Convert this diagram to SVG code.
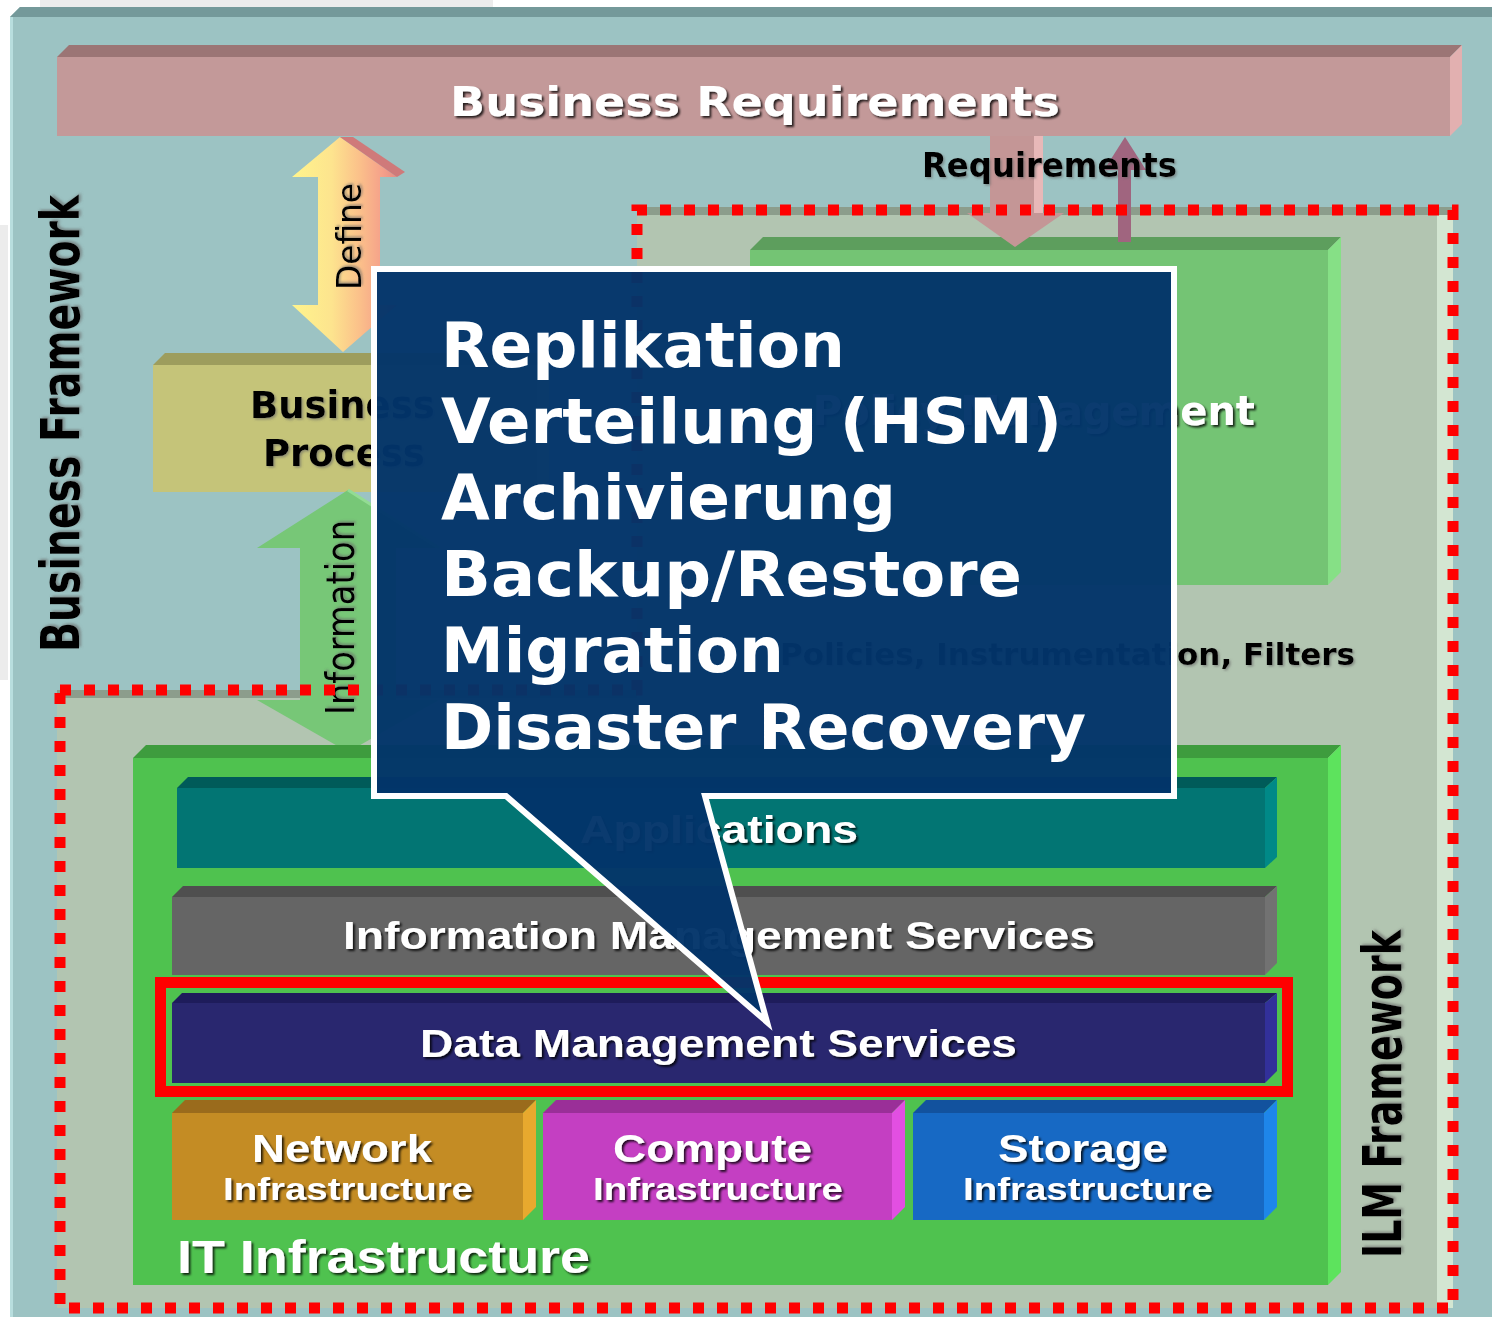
<svg xmlns="http://www.w3.org/2000/svg" width="1492" height="1317" viewBox="0 0 1492 1317">
<defs>
<style>
.ws{fill:#fff;font-family:"Liberation Sans",Arial,sans-serif;font-weight:bold;filter:url(#sd)}
.wd{fill:#fff;font-family:"DejaVu Sans",Verdana,sans-serif;font-weight:bold;filter:url(#sd)}
.bd{fill:#000;font-family:"DejaVu Sans",Verdana,sans-serif;font-weight:bold;filter:url(#sg)}
.br{fill:#000;font-family:"DejaVu Sans",Verdana,sans-serif;filter:url(#sg)}
.co{fill:#fff;font-family:"DejaVu Sans",Verdana,sans-serif;font-weight:bold;font-size:63px}
</style>
<filter id="sd" x="-5%" y="-30%" width="110%" height="160%"><feDropShadow dx="2" dy="2" stdDeviation="1" flood-color="#000" flood-opacity="0.8"/></filter>
<filter id="sg" x="-5%" y="-30%" width="110%" height="160%"><feDropShadow dx="1.5" dy="1.5" stdDeviation="1" flood-color="#666" flood-opacity="0.6"/></filter>
<linearGradient id="defg" gradientUnits="userSpaceOnUse" x1="292" y1="0" x2="405" y2="0">
<stop offset="0" stop-color="#fff48c"/><stop offset="0.35" stop-color="#fde48e"/><stop offset="0.6" stop-color="#fbc08a"/><stop offset="0.8" stop-color="#f5a08a"/><stop offset="1" stop-color="#dc8282"/>
</linearGradient>
</defs>

<!-- background -->
<rect x="0" y="0" width="1492" height="1317" fill="#ffffff"/>
<rect x="40" y="0" width="453" height="8" fill="#ececec"/>
<rect x="0" y="225" width="8" height="455" fill="#ececec"/>
<polygon points="10,1317 10,17 20,7 1492,7 1492,1317" fill="#9cc3c3"/>
<polygon points="10,17 20,7 1492,7 1492,17" fill="#74999a"/>
<rect x="10" y="17" width="3" height="1300" fill="#b8dede"/>

<!-- ILM framework region -->
<g id="ilm-framework">
<polygon points="637,207 1453,207 1453,1308 57,1308 57,690 637,690" fill="#b2c5b1"/>
<rect x="637" y="207" width="816" height="8" fill="#8c9d8c"/>
<rect x="57" y="690" width="580" height="8" fill="#8c9d8c"/>
<rect x="1437" y="215" width="16" height="1093" fill="#d3e6d2"/>
</g>

<g id="business-requirements">
<polygon points="57,57 69,45 1462,45 1450,57" fill="#9b7575"/>
<polygon points="1450,57 1462,45 1462,124 1450,136" fill="#e2b0b0"/>
<rect x="57" y="57" width="1393" height="79" fill="#c39999"/>
<text class="wd" x="755" y="116" font-size="41" text-anchor="middle" textLength="610" lengthAdjust="spacingAndGlyphs">Business Requirements</text>
</g>

<g id="business-process">
<polygon points="153,365 165,353 549,353 537,365" fill="#9d9d5d"/>
<polygon points="537,365 549,353 549,480 537,492" fill="#d6d690"/>
<rect x="153" y="365" width="384" height="127" fill="#c5c479"/>
<text class="bd" x="250" y="418" font-size="37">Business</text>
<text class="bd" x="263" y="466" font-size="37">Process</text>
</g>

<g id="policy-management">
<polygon points="750,250 763,237 1341,237 1328,250" fill="#5d9e5d"/>
<polygon points="1328,250 1341,237 1341,572 1328,585" fill="#86e086"/>
<rect x="750" y="250" width="578" height="335" fill="#74c474"/>
<text class="wd" x="1255" y="425" font-size="40" text-anchor="end">Policy Management</text>
</g>

<g id="connectors">
<g id="define-arrow">
<polygon points="340,137 397,177 380,177 380,305 397,305 343,352 292,305 318,305 318,177 292,177" fill="url(#defg)"/>
<polygon points="340,137 353,137 405,172 397,177" fill="#cf7a7a"/>
<text class="br" font-size="33" transform="translate(361,290) rotate(-90)" textLength="107" lengthAdjust="spacingAndGlyphs">Define</text>
</g>
<g id="information-arrow">
<polygon points="348,490 439,548 396,548 396,700 439,700 348,752 257,700 300,700 300,548 257,548" fill="#77c777"/>
<polyline points="348,490 439,548" fill="none" stroke="#93dc93" stroke-width="3"/>
<text class="br" font-size="34" transform="translate(354,715) scale(1.15,1) rotate(-90)" textLength="195" lengthAdjust="spacingAndGlyphs">Information</text>
</g>
<g id="requirements-down">
<rect x="990" y="136" width="44" height="78" fill="#c49696"/>
<rect x="1034" y="136" width="9" height="78" fill="#e8b8b8"/>
<polygon points="967,213 1064,213 1015,247" fill="#c49696"/>
</g>
<g id="requirements-up">
<rect x="1118" y="168" width="13" height="74" fill="#a0657f"/>
<polygon points="1104,170 1146,170 1125,137" fill="#a0657f"/>
</g>
<text class="bd" x="922" y="177" font-size="33" textLength="255" lengthAdjust="spacingAndGlyphs">Requirements</text>
<text class="bd" x="1355" y="665" font-size="31" text-anchor="end">Policies, Instrumentation, Filters</text>
</g>

<g id="it-infrastructure">
<polygon points="133,758 146,745 1341,745 1328,758" fill="#3e9c3e"/>
<polygon points="1328,758 1341,745 1341,1272 1328,1285" fill="#5de35d"/>
<rect x="133" y="758" width="1195" height="527" fill="#4fc24f"/>
<text class="ws" x="177" y="1273" font-size="46" textLength="413" lengthAdjust="spacingAndGlyphs">IT Infrastructure</text>
</g>

<g id="applications">
<polygon points="177,788 188,777 1277,777 1265,788" fill="#005b59"/>
<polygon points="1265,788 1277,777 1277,857 1265,868" fill="#008987"/>
<rect x="177" y="788" width="1088" height="80" fill="#027573"/>
<text class="ws" x="580" y="843" font-size="38" textLength="278" lengthAdjust="spacingAndGlyphs">Applications</text>
</g>

<g id="information-management-services">
<polygon points="172,897 183,886 1277,886 1265,897" fill="#4f4f4f"/>
<polygon points="1265,897 1277,886 1277,963 1265,975" fill="#727272"/>
<rect x="172" y="897" width="1093" height="78" fill="#656565"/>
<text class="ws" x="343" y="949" font-size="38" textLength="752" lengthAdjust="spacingAndGlyphs">Information Management Services</text>
</g>

<g id="data-management-services">
<polygon points="172,1003 182,993 1277,993 1265,1003" fill="#1e1c5b"/>
<polygon points="1265,1003 1277,993 1277,1071 1265,1083" fill="#32309a"/>
<rect x="172" y="1003" width="1093" height="80" fill="#29276f"/>
<text class="ws" x="420" y="1057" font-size="38" textLength="597" lengthAdjust="spacingAndGlyphs">Data Management Services</text>
<rect x="160.5" y="982.5" width="1127" height="109" fill="none" stroke="#ff0000" stroke-width="11"/>
</g>

<g id="network-infrastructure">
<polygon points="172,1113 185,1100 536,1100 523,1113" fill="#9a6b1c"/>
<polygon points="523,1113 536,1100 536,1207 523,1220" fill="#e8a92e"/>
<rect x="172" y="1113" width="351" height="107" fill="#c48c24"/>
<text class="ws" x="252" y="1162" font-size="38" textLength="180" lengthAdjust="spacingAndGlyphs">Network</text>
<text class="ws" x="223" y="1200" font-size="32" textLength="250" lengthAdjust="spacingAndGlyphs">Infrastructure</text>
</g>

<g id="compute-infrastructure">
<polygon points="543,1113 556,1100 905,1100 892,1113" fill="#9a2f98"/>
<polygon points="892,1113 905,1100 905,1207 892,1220" fill="#e24fe2"/>
<rect x="543" y="1113" width="349" height="107" fill="#c43fc2"/>
<text class="ws" x="613" y="1162" font-size="38" textLength="199" lengthAdjust="spacingAndGlyphs">Compute</text>
<text class="ws" x="593" y="1200" font-size="32" textLength="250" lengthAdjust="spacingAndGlyphs">Infrastructure</text>
</g>

<g id="storage-infrastructure">
<polygon points="913,1113 926,1100 1277,1100 1264,1113" fill="#12529e"/>
<polygon points="1264,1113 1277,1100 1277,1207 1264,1220" fill="#1e86ea"/>
<rect x="913" y="1113" width="351" height="107" fill="#1769c4"/>
<text class="ws" x="998" y="1162" font-size="38" textLength="170" lengthAdjust="spacingAndGlyphs">Storage</text>
<text class="ws" x="963" y="1200" font-size="32" textLength="250" lengthAdjust="spacingAndGlyphs">Infrastructure</text>
</g>

<g id="framework-labels">
<text class="bd" font-size="40" transform="translate(79,652) scale(1.35,1) rotate(-90)" textLength="457" lengthAdjust="spacingAndGlyphs">Business Framework</text>
<text class="bd" font-size="38" transform="translate(1401,1258) scale(1.4,1) rotate(-90)" textLength="328" lengthAdjust="spacingAndGlyphs">ILM Framework</text>
</g>

<path id="ilm-border" d="M60,690 H637 V210 H1453 V1308 H60 Z" fill="none" stroke="#ff0000" stroke-width="11" stroke-dasharray="11 13"/>

<g id="callout">
<path d="M374,269 H1174 V796 H705 L767,1022 L506,796 H374 Z" fill="#02346a" fill-opacity="0.965" stroke="#ffffff" stroke-width="6"/>
<text class="co" x="441" y="367">Replikation</text>
<text class="co" x="441" y="443" textLength="621" lengthAdjust="spacingAndGlyphs">Verteilung (HSM)</text>
<text class="co" x="441" y="519">Archivierung</text>
<text class="co" x="441" y="596" textLength="581" lengthAdjust="spacingAndGlyphs">Backup/Restore</text>
<text class="co" x="441" y="672">Migration</text>
<text class="co" x="441" y="749">Disaster Recovery</text>
</g>
</svg>
